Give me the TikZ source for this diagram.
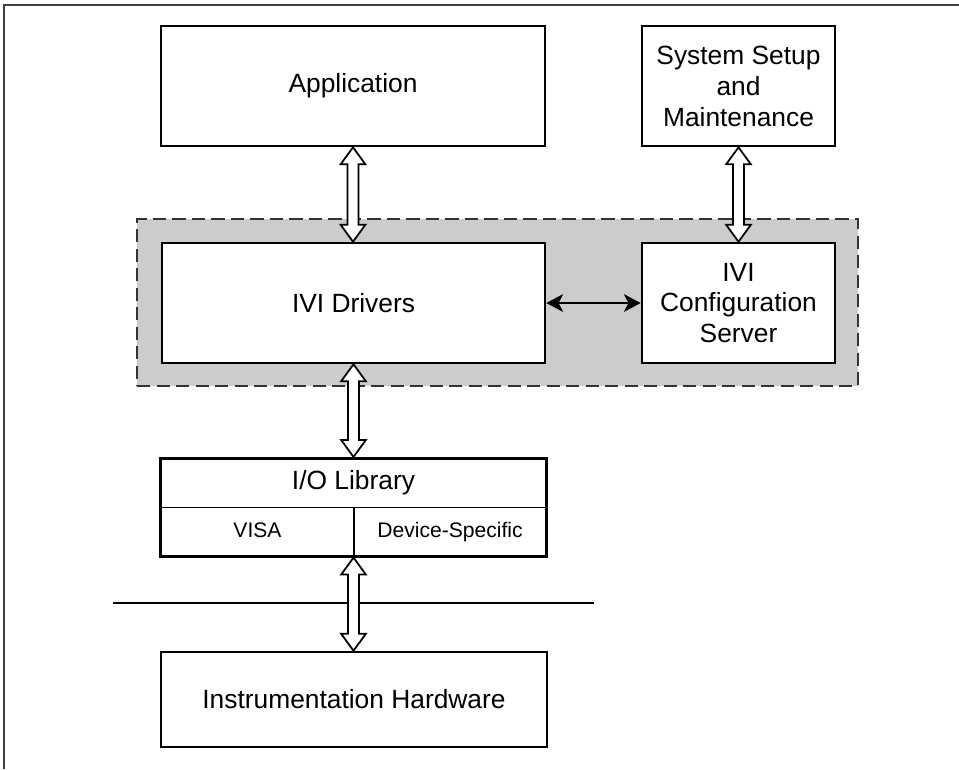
\documentclass[tikz,border=0pt]{standalone}
\usepackage{fontspec}
\setmainfont{Liberation Sans}
\usetikzlibrary{arrows.meta,calc,fit}

% hollow double-headed arrow between two anchors (vertical)
\newcommand{\hollowarrow}[2]{%
  \draw[hollow] let \p1=(#1), \p2=(#2) in
    (\x1,\y1) -- (\x1+7pt,\y1-9.6pt) -- (\x1+3.1pt,\y1-9.6pt) -- (\x1+3.1pt,\y2+9.6pt)
    -- (\x1+7pt,\y2+9.6pt) -- (\x1,\y2) -- (\x1-7pt,\y2+9.6pt) -- (\x1-3.1pt,\y2+9.6pt)
    -- (\x1-3.1pt,\y1-9.6pt) -- (\x1-7pt,\y1-9.6pt) -- cycle;}

\begin{document}
\begin{tikzpicture}[
  x=0.02cm, y=-0.02cm,
  font=\fontsize{15}{17.6}\selectfont,
  box/.style={draw, line width=1.5pt, align=center, inner sep=0pt},
  cell/.style={draw, line width=0.6pt, inner sep=0pt, minimum height=0.97cm, text height=0.72em, text depth=0.02em},
  region/.style={draw=black!80, fill=gray!40, line width=1.1pt, dash pattern=on 7.5pt off 3.6pt},
  hollow/.style={draw, fill=white, line width=1pt, line join=miter},
  arrow/.style={line width=1.3pt, {Stealth[length=9.5pt,width=10pt,inset=2.5pt]}-{Stealth[length=9.5pt,width=10pt,inset=2.5pt]}}
]
\useasboundingbox (0,0) rectangle (959,769);
\draw[line width=0.8pt, black!75] (4,769) -- (4,5) -- (959,5);

\node[region, minimum width=14.42cm, minimum height=3.34cm] (core) at (497.5,302.5) {};

\node[box, minimum width=7.68cm, minimum height=2.4cm] (app) at (353,86) {Application};
\node[box, minimum width=3.86cm, minimum height=2.4cm] (setup) at (738.5,86) {System Setup\\and\\Maintenance};
\node[box, minimum width=7.66cm, minimum height=2.4cm, fill=white] (drivers) at (353.5,303) {IVI Drivers};
\node[box, minimum width=3.86cm, minimum height=2.4cm, fill=white] (config) at (738.5,303) {IVI\\Configuration\\Server};

\node[cell, minimum width=7.7cm] (iotop) at (353.5,483) {I/O Library};
\node[cell, minimum width=3.86cm, font=\fontsize{12}{14}\selectfont] (visa) at (257.5,531.5) {VISA};
\node[cell, minimum width=3.84cm, font=\fontsize{12}{14}\selectfont] (devspec) at (450,531.5) {Device-Specific};
\node[box, fit=(iotop)(visa)(devspec)] (iolib) {};

\coordinate (sepL) at (113,603);
\coordinate (sepR) at (594,603);
\draw[line width=0.8pt] (sepL) -- (sepR);

\node[box, minimum width=7.72cm, minimum height=1.9cm] (hw) at (354,699.5) {Instrumentation Hardware};

\hollowarrow{app.south}{drivers.north}
\hollowarrow{setup.south}{config.north}
\hollowarrow{drivers.south}{iolib.north}
\hollowarrow{iolib.south}{hw.north}
\draw[arrow] (drivers.east) -- (config.west);
\end{tikzpicture}
\end{document}
